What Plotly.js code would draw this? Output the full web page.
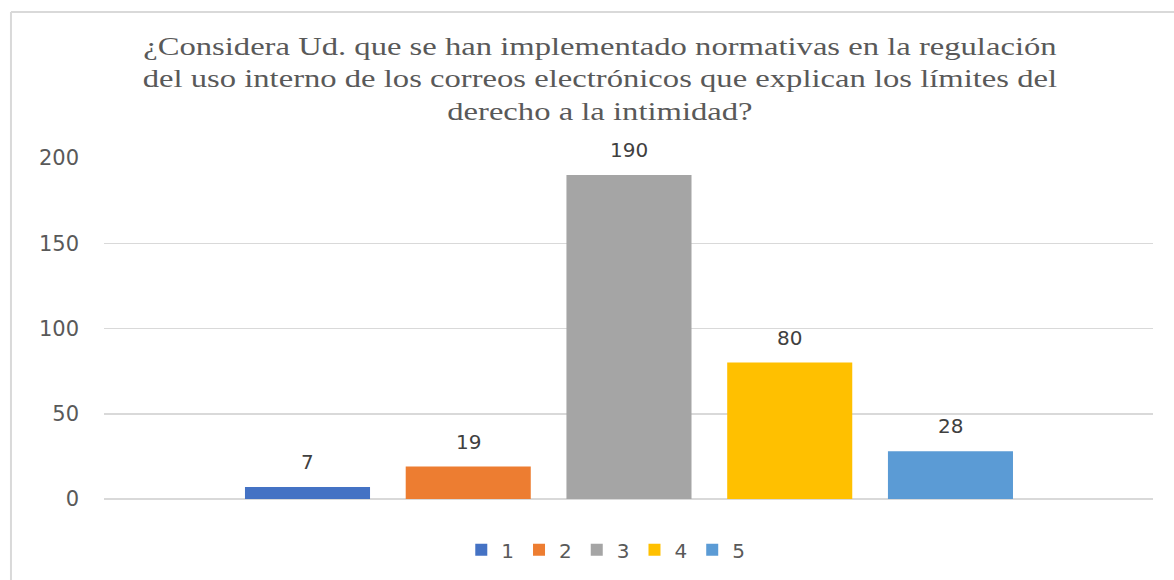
<!DOCTYPE html>
<html>
<head>
<meta charset="utf-8">
<script src="https://cdn.plot.ly/plotly-3.0.1.min.js"></script>
<style>
html,body{margin:0;padding:0;background:#fff;}
#chart{width:1174px;height:580px;}
#chart .gtitle{transform-box:fill-box;transform-origin:50% 50%;transform:scaleX(1.306);}
</style>
</head>
<body>
<div id="chart"></div>
<script>
const titleText = "¿Considera Ud. que se han implementado normativas en la regulación<br>del uso interno de los correos electrónicos que explican los límites del<br>derecho a la intimidad?";
const seriesNames = ["1", "2", "3", "4", "5"];
const seriesValues = [7, 19, 190, 80, 28];
const seriesColors = ["#4472C4", "#ED7D31", "#A5A5A5", "#FFC000", "#5B9BD5"];
const yTicks = [0, 50, 100, 150, 200];

const traces = seriesNames.map((name, i) => ({
  type: "bar",
  name: name,
  x: [i],
  y: [seriesValues[i]],
  width: 0.778,
  marker: {color: seriesColors[i]},
  hoverinfo: "skip"
}));

const annotations = seriesNames.map((name, i) => ({
  xref: "x", yref: "y",
  x: i, y: seriesValues[i],
  text: String(seriesValues[i]),
  showarrow: false,
  yanchor: "middle",
  yshift: 25,
  font: {family: "DejaVu Sans", size: 20, color: "#404040"}
}));

const layout = {
  width: 1174,
  height: 580,
  margin: {l: 104, r: 21, t: 158, b: 81},
  paper_bgcolor: "#ffffff",
  plot_bgcolor: "#ffffff",
  title: {
    text: titleText,
    font: {family: "Liberation Serif", size: 25, color: "#595959"},
    xref: "container", x: 0.511, xanchor: "center",
    yref: "container", y: 0.906, yanchor: "top"
  },
  barmode: "overlay",
  xaxis: {
    range: [-1.266, 5.26],
    showticklabels: false,
    showgrid: false,
    zeroline: false,
    showline: false,
    fixedrange: true
  },
  yaxis: {
    range: [0, 200],
    tickvals: yTicks,
    ticktext: yTicks.map(String),
    showgrid: true,
    gridcolor: "#d9d9d9",
    gridwidth: 1.5,
    zeroline: true,
    zerolinecolor: "#d9d9d9",
    zerolinewidth: 1.5,
    showline: false,
    ticks: "",
    ticklabelstandoff: 24,
    tickfont: {family: "DejaVu Sans", size: 21, color: "#595959"},
    fixedrange: true
  },
  annotations: annotations,
  showlegend: true,
  legend: {
    orientation: "h",
    xref: "container", x: 0.516, xanchor: "center",
    yref: "container", y: 0.052, yanchor: "middle",
    font: {family: "DejaVu Sans", size: 20, color: "#595959"},
    itemgap: 0,
    itemwidth: 30,
    traceorder: "normal"
  },
  shapes: [
    {type: "line", xref: "paper", yref: "paper", x0: -0.0887, x1: 1.1, y0: 1.428, y1: 1.428, line: {color: "#d9d9d9", width: 2}},
    {type: "line", xref: "paper", yref: "paper", x0: -0.0887, x1: -0.0887, y0: -0.4, y1: 1.428, line: {color: "#d9d9d9", width: 2}}
  ]
};

Plotly.newPlot("chart", traces, layout, {displayModeBar: false, staticPlot: true});
</script>
</body>
</html>
